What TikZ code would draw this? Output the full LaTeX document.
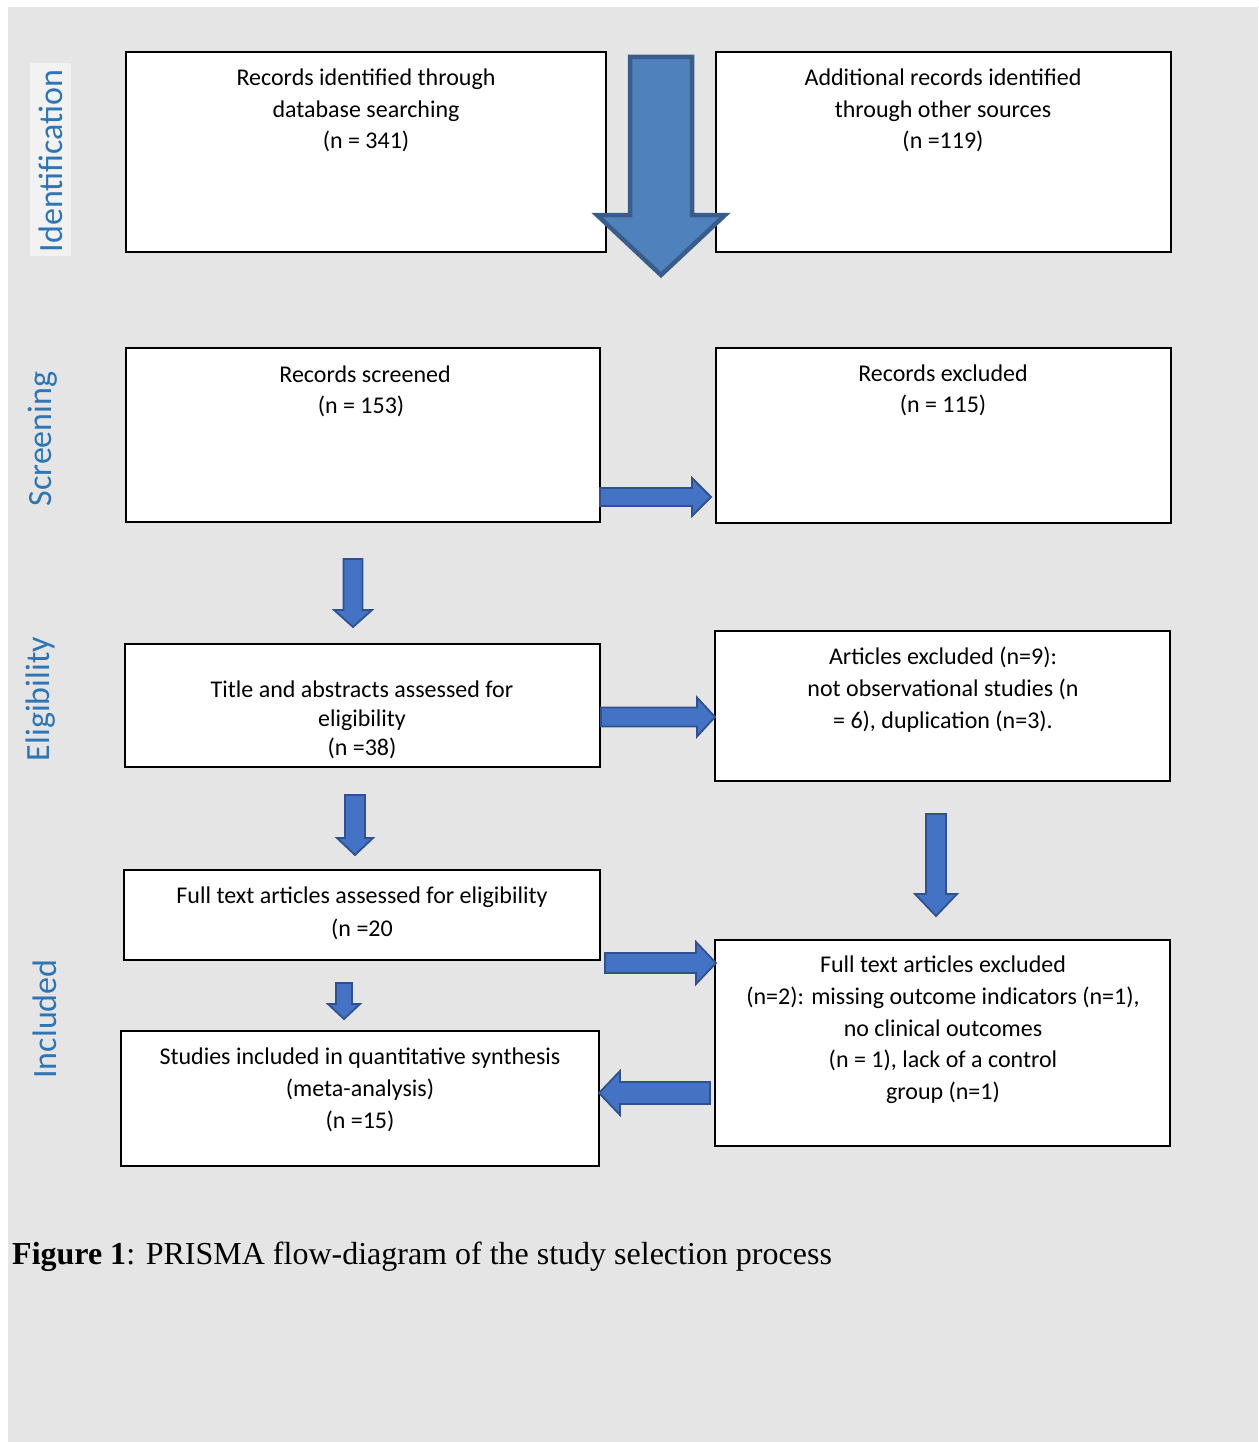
\documentclass[tikz,border=0pt]{standalone}
\usepackage{fontspec}
\setmainfont{Carlito}
\newfontfamily\capfont{Liberation Serif}
\definecolor{bg}{HTML}{E5E5E5}
\definecolor{labbg}{HTML}{F2F2F2}
\definecolor{phase}{HTML}{2E75B6}
\definecolor{bigfill}{HTML}{4F81BD}
\definecolor{bigedge}{HTML}{385D8A}
\definecolor{arrfill}{HTML}{4472C4}
\definecolor{arredge}{HTML}{2F528F}
\tikzset{
  boxnode/.style={draw=black, line width=1.3pt, fill=white, inner sep=0pt},
  txt/.style={align=center, inner sep=0pt, font=\fontsize{24}{31.5}\selectfont},
  phaselabel/.style={rotate=90, text=phase, inner sep=0pt, font=\fontsize{34}{40}\selectfont},
  blockarrow/.style={fill=arrfill, draw=arredge, line width=1.8pt, line join=miter},
  bigarrow/.style={fill=bigfill, draw=bigedge, line width=4.5pt, line join=miter},
}
\newcommand\myboxat[5]{% name, x1, y1, x2, y2
  \node[boxnode, minimum width={#4-#2}, minimum height={#5-#3}] (#1) at ({(#2+#4)/2},{(#3+#5)/2}) {};}
\newcommand\darrowat[7]{% style, x, top, headbase, tip, halfshaft, halfhead
  \draw[#1] (#2-#6,#3) -- (#2+#6,#3) -- (#2+#6,#4) -- (#2+#7,#4) -- (#2,#5) -- (#2-#7,#4) -- (#2-#6,#4) -- cycle;}
\newcommand\rarrowat[6]{% y, left, headbase, tip, halfshaft, halfhead
  \draw[blockarrow] (#2,#1-#5) -- (#3,#1-#5) -- (#3,#1-#6) -- (#4,#1) -- (#3,#1+#6) -- (#3,#1+#5) -- (#2,#1+#5) -- cycle;}
\begin{document}
\begin{tikzpicture}[x=1pt, y=-1pt]
\useasboundingbox (0,0) rectangle (1258,1442);
\fill[bg] (8,7) rectangle (1258,1442);

% phase labels
\fill[labbg] (30,63) rectangle (71,256);
\node[phaselabel] (lid) at (51,161) {Identification};
\node[phaselabel] (lsc) at (43,439) {Screening};
\node[phaselabel] (lel) at (41,699) {Eligibility};
\node[phaselabel] (lin) at (45,1019) {Included};

% boxes
\myboxat{a}{126}{52}{606}{252}
\myboxat{b}{716}{52}{1171}{252}
\myboxat{c}{126}{348}{600}{522}
\myboxat{d}{716}{348}{1171}{523}
\myboxat{e}{125}{644}{600}{767}
\myboxat{f}{715}{631}{1170}{781}
\myboxat{g}{124}{870}{600}{960}
\myboxat{h}{715}{940}{1170}{1146}
\myboxat{i}{121}{1031}{599}{1166}

% texts
\node[txt] (ta) at (366,110.5) {Records identified through\\database searching\\(n = 341)};
\node[txt] (tb) at (943,110.5) {Additional records identified\\through other sources\\(n =119)};
\node[txt] (tc) at (365,391.5) {Records screened\\\hspace*{-8pt}(n = 153)};
\node[txt] (td) at (943,390.5) {Records excluded\\(n = 115)};
\node[txt, font=\fontsize{24}{29}\selectfont] (te) at (362,720) {Title and abstracts assessed for\\eligibility\\(n =38)};
\node[txt, font=\fontsize{24}{32}\selectfont] (tf) at (943,690) {Articles excluded (n=9):\\not observational studies (n\\= 6), duplication (n=3).};
\node[txt, font=\fontsize{24}{33}\selectfont] (tg) at (362,913.5) {Full text articles assessed for eligibility\\(n =20};
\node[txt, font=\fontsize{24}{31.7}\selectfont] (th) at (943,1030) {Full text articles excluded\\(n=2): missing outcome indicators (n=1),\\no clinical outcomes\\(n = 1), lack of a control\\group (n=1)};
\node[txt, font=\fontsize{24}{32}\selectfont] (ti) at (360,1090) {Studies included in quantitative synthesis\\(meta-analysis)\\(n =15)};

% big arrow
\darrowat{bigarrow}{661}{57}{215}{275}{31}{64}

% small arrows
\rarrowat{497}{600}{692}{711}{9}{19}
\darrowat{blockarrow}{353}{559}{610}{627}{9.5}{19}
\rarrowat{717}{601}{697}{715}{9.5}{19.5}
\darrowat{blockarrow}{355}{795}{838}{855}{10}{18}
\darrowat{blockarrow}{936}{814}{894}{916}{10}{21}
\rarrowat{963}{605}{696}{716}{10}{21}
\darrowat{blockarrow}{344}{983}{1004}{1019}{8}{16}
\draw[blockarrow] (710,1082) -- (620,1082) -- (620,1071) -- (599,1093) -- (620,1115) -- (620,1104) -- (710,1104) -- cycle;

% caption
\node[anchor=base west, inner sep=0pt, font=\capfont\fontsize{32}{38}\selectfont] (cap) at (12,1264) {\textbf{Figure 1}: PRISMA flow-diagram of the study selection process};
\end{tikzpicture}
\end{document}
